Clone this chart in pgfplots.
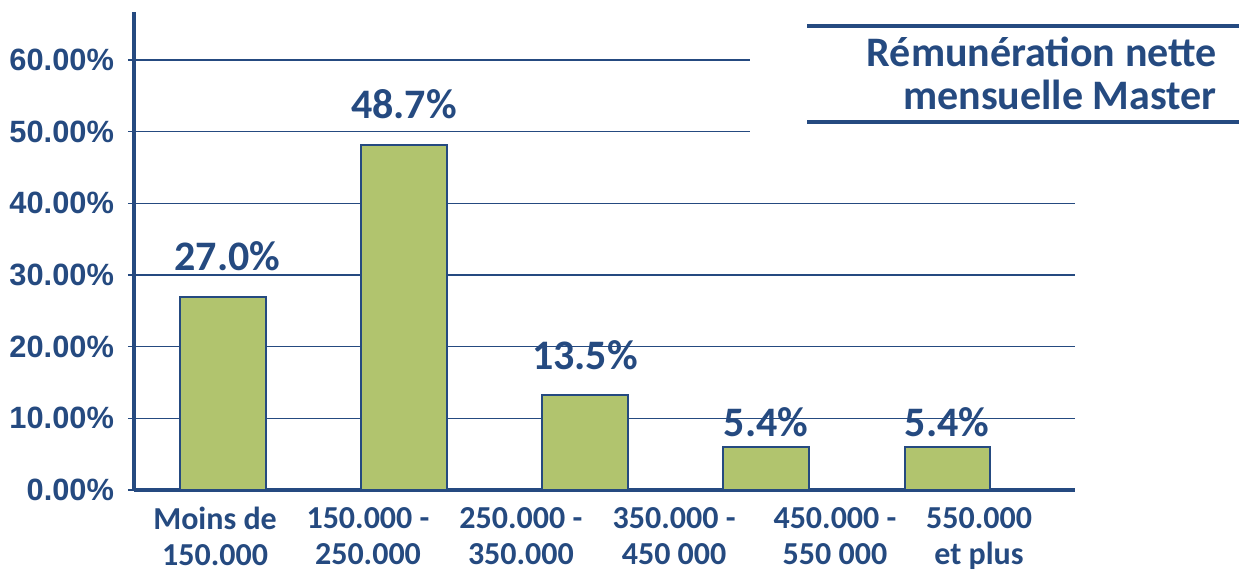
\documentclass[border=0pt]{standalone}
\usepackage{pgfplots}
\pgfplotsset{compat=1.18}
\usepackage{fontspec}
\setmainfont{Carlito}
\newfontfamily\tickfont{Liberation Sans}
\definecolor{navy}{RGB}{37,74,128}
\definecolor{barg}{RGB}{177,196,110}
\begin{document}
\begin{tikzpicture}
\useasboundingbox (-67bp,-40.5bp) rectangle (552.5bp,245bp);
\begin{axis}[
  at={(0,0)}, anchor=south west,
  scale only axis, width=470.5bp, height=239bp,
  xmin=-0.4917, xmax=4.707, ymin=0, ymax=66.7,
  axis x line=bottom, axis y line=left,
  axis line style={-, navy, line width=2bp},
  tick align=outside,
  ytick={0,10,20,30,40,50,60},
  yticklabels={0.00\%,10.00\%,20.00\%,30.00\%,40.00\%,50.00\%,60.00\%},
  yticklabel style={font=\tickfont\bfseries\fontsize{15.4bp}{18bp}\selectfont, text=navy, xshift=-3.5bp},
  y tick style={navy, line width=0.75bp},
  major tick length=3bp,
  ymajorgrids,
  grid style={navy, line width=0.75bp},
  xtick={-0.044,0.801,1.646,2.492,3.381,4.177},
  xticklabels={{Moins de\\150.000},{150.000 -\\250.000},{250.000 -\\350.000},{350.000 -\\450 000},{450.000 -\\550 000},{550.000\\et plus}},
  xticklabel style={align=center, font=\bfseries\fontsize{16bp}{18bp}\selectfont, text=navy, yshift=-2bp},
  x tick style={draw=none},
  extra x ticks={0.475,1.508,2.536,3.530},
  extra x tick labels={},
  extra x tick style={tick style={draw=navy, line width=0.75bp}, major tick length=5bp},
]
% bars
\addplot[ybar, bar width=0.47, fill=barg, draw=navy, line width=1bp]
  coordinates {(0,26.9) (1,48.1) (2,13.3) (3,6.0) (4,6.0)};
% value labels
\addplot[draw=none, mark=none, nodes near coords, point meta=explicit symbolic,
  nodes near coords style={anchor=base, text=navy, font=\bfseries\fontsize{21bp}{21bp}\selectfont}]
  coordinates {(0.025,30.56)[27.0\%] (1,51.9)[48.7\%] (2,16.88)[13.5\%] (3,7.4)[5.4\%] (4,7.4)[5.4\%]};
\end{axis}
% title box
\fill[white] (308bp,160bp) rectangle (552.5bp,242bp);
\draw[navy, line width=2.25bp] (336.5bp,232bp) -- (552.5bp,232bp);
\draw[navy, line width=2.25bp] (336.5bp,184bp) -- (552.5bp,184bp);
\node[anchor=base east, text=navy, inner sep=0pt, font=\bfseries\fontsize{21bp}{21bp}\selectfont] at (541.5bp,211.5bp) {Rémunération nette};
\node[anchor=base east, text=navy, inner sep=0pt, font=\bfseries\fontsize{21bp}{21bp}\selectfont] at (541.5bp,190bp) {mensuelle Master};
\end{tikzpicture}
\end{document}
